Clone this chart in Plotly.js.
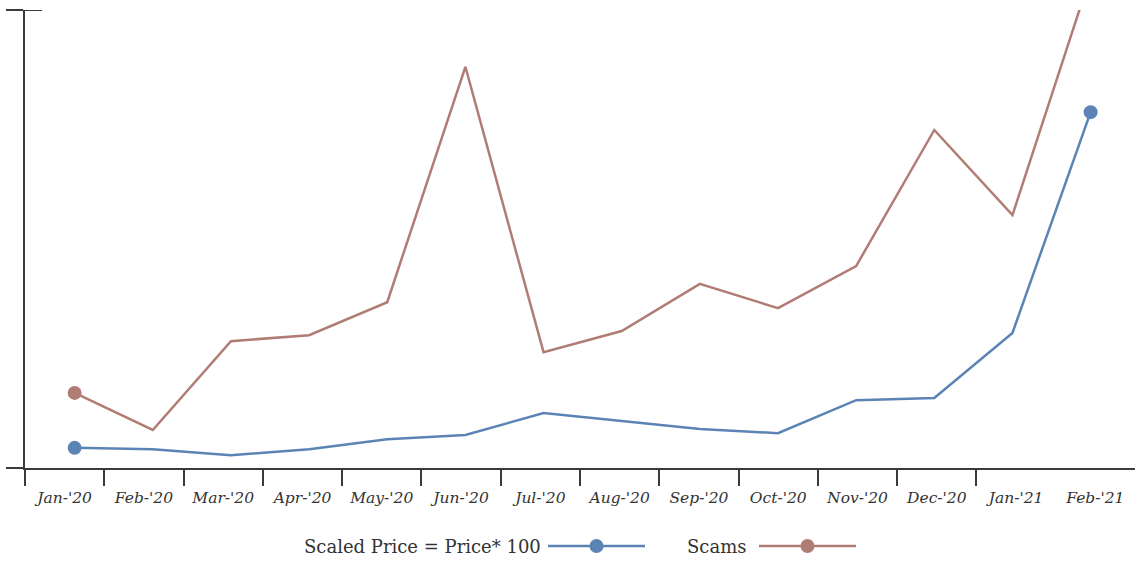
<!DOCTYPE html>
<html>
<head>
<meta charset="utf-8">
<script src="https://cdn.plot.ly/plotly-3.0.1.min.js"></script>
<style>html,body{margin:0;padding:0;background:#fff;}#chart{width:1135px;height:562px;}</style>
</head>
<body>
<div id="chart"></div>
<script>
// ---- data ----
var categories = ["Jan-'20","Feb-'20","Mar-'20","Apr-'20","May-'20","Jun-'20","Jul-'20","Aug-'20","Sep-'20","Oct-'20","Nov-'20","Dec-'20","Jan-'21","Feb-'21"];
var priceName = "Scaled Price = Price* 100";
var priceValues = [4.4, 4.1, 2.8, 4.1, 6.3, 7.2, 12.0, 10.3, 8.5, 7.6, 14.8, 15.3, 29.5, 77.7];
var scamsName = "Scams";
var scamsValues = [16.4, 8.3, 27.7, 29.0, 36.2, 87.6, 25.3, 29.9, 40.2, 34.9, 44.1, 73.8, 55.2, 107.5];

// ---- styles ----
var blue = "#5b84b4";
var brown = "#b07d74";
var axisColor = "#3b3b3b";
var W = 1135, H = 562, ML = 25, MR = 0, MT = 10, MB = 94;

var idx = categories.map(function(c, i){ return i; });
var boundaries = categories.slice(0, -1).map(function(c, i){ return i - 0.5; });
function endMarkers(n){ var s = []; for (var i = 0; i < n; i++) s.push(i === 0 || i === n - 1 ? 14 : 0); return s; }

var traces = [
  {x: [0], y: [0], xaxis: 'x', yaxis: 'y', mode: 'none', hoverinfo: 'skip', showlegend: false},
  {x: [0], y: [0], xaxis: 'x2', yaxis: 'y', mode: 'none', hoverinfo: 'skip', showlegend: false},
  {x: [0], y: [0], xaxis: 'x', yaxis: 'y2', mode: 'none', hoverinfo: 'skip', showlegend: false},
  {x: idx, y: priceValues, name: priceName, type: 'scatter', mode: 'lines+markers', xaxis: 'x3', yaxis: 'y',
   line: {color: blue, width: 2.5}, marker: {color: blue, opacity: 1, size: endMarkers(idx.length), line: {width: 0}}, hoverinfo: 'skip'},
  {x: idx, y: scamsValues, name: scamsName, type: 'scatter', mode: 'lines+markers', xaxis: 'x3', yaxis: 'y',
   line: {color: brown, width: 2.5}, marker: {color: brown, opacity: 1, size: endMarkers(idx.length), line: {width: 0}}, hoverinfo: 'skip'}
];

// pixel -> paper helpers for the hand-made legend
var pw = W - ML - MR, ph = H - MT - MB;
function px(x){ return (x - ML) / pw; }
function py(y){ return (H - MB - y) / ph; }
var legY = 546;
function legendShapes(lineX0, lineX1, color){
  var c = (lineX0 + lineX1) / 2;
  return [
    {type: 'line', xref: 'paper', yref: 'paper', x0: px(lineX0), x1: px(lineX1), y0: py(legY), y1: py(legY), line: {color: color, width: 2.5}},
    {type: 'circle', xref: 'paper', yref: 'paper', x0: px(c - 7), x1: px(c + 7), y0: py(legY + 7), y1: py(legY - 7), fillcolor: color, line: {width: 0}}
  ];
}
var legendFont = {family: 'DejaVu Serif', size: 18, color: '#333'};

var layout = {
  width: W, height: H,
  margin: {l: ML, r: MR, t: MT, b: MB},
  paper_bgcolor: '#fff', plot_bgcolor: '#fff',
  showlegend: false,
  font: {family: 'DejaVu Serif', color: '#333'},
  xaxis: {
    range: [-0.5, 13.5], tickmode: 'array', tickvals: idx, ticktext: categories,
    ticks: 'outside', ticklen: 14, tickcolor: 'rgba(0,0,0,0)',
    tickfont: {family: 'DejaVu Serif', size: 15.5, color: '#333', style: 'italic'},
    showline: true, linecolor: axisColor, linewidth: 2, showgrid: false, zeroline: false, fixedrange: true
  },
  xaxis2: {
    overlaying: 'x', range: [-0.5, 13.5], anchor: 'y', side: 'bottom',
    tickmode: 'array', tickvals: boundaries, ticks: 'outside', ticklen: 17, tickwidth: 2, tickcolor: axisColor,
    showticklabels: false, showline: false, showgrid: false, zeroline: false
  },
  xaxis3: {
    overlaying: 'x', anchor: 'y', side: 'bottom', range: [-0.635, 13.568],
    showticklabels: false, ticks: '', showline: false, showgrid: false, zeroline: false
  },
  yaxis: {
    range: [0, 100], tickmode: 'array', tickvals: [0, 100], ticks: 'outside', ticklen: 17, tickwidth: 2, tickcolor: axisColor,
    showticklabels: false, showline: true, linecolor: axisColor, linewidth: 2, showgrid: false, zeroline: false, fixedrange: true
  },
  yaxis2: {
    overlaying: 'y', range: [0, 100], anchor: 'x', side: 'left',
    tickmode: 'array', tickvals: [100], ticks: 'inside', ticklen: 17, tickwidth: 2, tickcolor: axisColor,
    showticklabels: false, showline: false, showgrid: false, zeroline: false
  },
  shapes: legendShapes(548, 645, blue).concat(legendShapes(759, 856, brown)).concat([
    {type: 'line', xref: 'paper', yref: 'y', x0: 0, x1: px(42), y0: 100, y1: 100, line: {color: axisColor, width: 2}}
  ]),
  annotations: [
    {xref: 'paper', yref: 'paper', x: px(543), y: py(legY), xanchor: 'right', yanchor: 'middle', showarrow: false,
     text: priceName, font: legendFont},
    {xref: 'paper', yref: 'paper', x: px(748), y: py(legY), xanchor: 'right', yanchor: 'middle', showarrow: false,
     text: scamsName, font: legendFont}
  ]
};

Plotly.newPlot('chart', traces, layout, {displayModeBar: false, staticPlot: true});
</script>
</body>
</html>
